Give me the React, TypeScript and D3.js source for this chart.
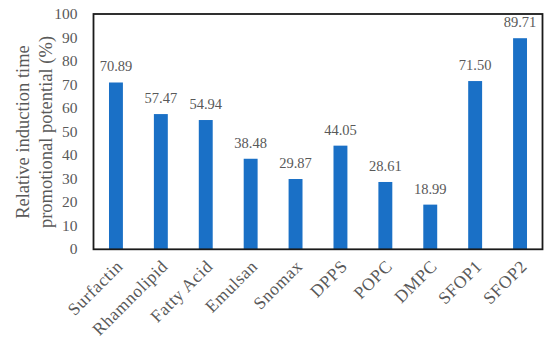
import React from "react";
import * as d3 from "d3";

const categories = ["Surfactin", "Rhamnolipid", "Fatty Acid", "Emulsan", "Snomax", "DPPS", "POPC", "DMPC", "SFOP1", "SFOP2"];
const values = [70.89, 57.47, 54.94, 38.48, 29.87, 44.05, 28.61, 18.99, 71.5, 89.71];
const valueLabels = ["70.89", "57.47", "54.94", "38.48", "29.87", "44.05", "28.61", "18.99", "71.50", "89.71"];
const yTicks = [0, 10, 20, 30, 40, 50, 60, 70, 80, 90, 100];
const yTitle = ["Relative induction time", "promotional potential (%)"];

const W = 550, H = 344;
const left = 93.5, right = 542.5, top = 14, bottom = 249.3;
const FONT = "'Liberation Serif', 'DejaVu Serif', serif";
const GREY = "#595959";

export default function App() {
  const x = d3.scaleBand<string>().domain(categories).range([left, right]).paddingInner(0.69).paddingOuter(0.345);
  const y = d3.scaleLinear().domain([0, 100]).range([bottom, top]);
  return (
    <svg width={W} height={H} style={{ position: "absolute", left: 0, top: 0, background: "#fff" }}>
      {categories.map((c, i) => (
        <g key={c}>
          <rect x={x(c)} y={y(values[i])} width={x.bandwidth()} height={y(0) - y(values[i])} fill="#1a70c6" />
          <text x={x(c)! + x.bandwidth() / 2} y={y(values[i]) - 11} textAnchor="middle" fontFamily={FONT} fontSize={14.5} fill={GREY}>
            {valueLabels[i]}
          </text>
          <text
            transform={`translate(${x(c)! + x.bandwidth() / 2 + 8},${bottom + 18}) rotate(-45)`}
            textAnchor="end"
            fontFamily={FONT}
            fontSize={17.5}
            letterSpacing={0.6}
            fill={GREY}
          >
            {c}
          </text>
        </g>
      ))}
      <rect x={left} y={top} width={right - left} height={bottom - top} fill="none" stroke="#1a1a1a" strokeWidth={1.8} />
      {yTicks.map((t) => (
        <text key={t} x={left - 16} y={y(t) + 5} textAnchor="end" fontFamily={FONT} fontSize={15.5} fill={GREY}>
          {t}
        </text>
      ))}
      <text transform={`translate(29,132) rotate(-90)`} textAnchor="middle" fontFamily={FONT} fontSize={18.5} fill={GREY}>
        <tspan x={0} dy={0}>{yTitle[0]}</tspan>
        <tspan x={0} dy={23}>{yTitle[1]}</tspan>
      </text>
    </svg>
  );
}
